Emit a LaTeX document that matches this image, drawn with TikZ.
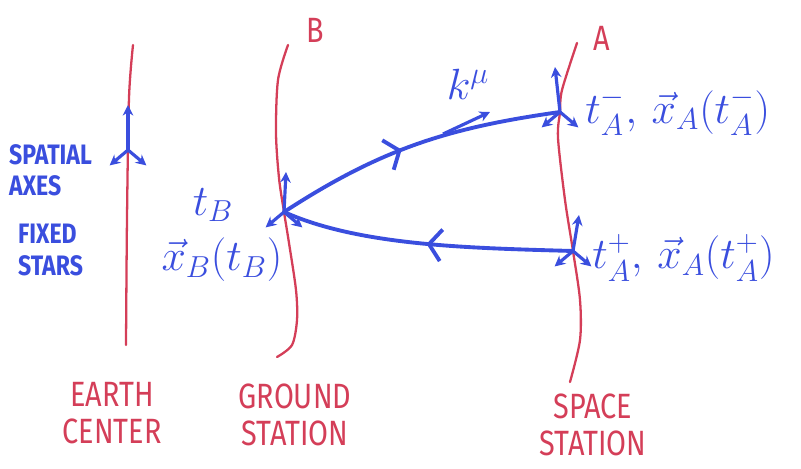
\documentclass[tikz,border=0pt]{standalone}
\usepackage{amsmath,amssymb}
\usepackage{xcolor}
\usepackage{fontspec}
\newfontfamily\handfont[FakeStretch=0.82]{Fira Sans}
\usepackage{tikz}
\usetikzlibrary{positioning,arrows.meta,decorations.markings}
\definecolor{penred}{RGB}{212,62,88}
\definecolor{penblue}{RGB}{58,78,222}

\begin{document}
\begin{tikzpicture}[x=0.02cm,y=0.02cm,
        wline/.style={penred,line width=1.3pt,line cap=round},
        ray/.style={penblue,line width=2.2pt,line cap=round,postaction={decorate},
                    decoration={markings,mark=at position #1 with
                    {\arrow{Straight Barb[length=7pt,width=18pt]}}}},
        axis/.style={penblue,line width=1.8pt,-{Stealth[length=6pt,width=6pt]}},
        redlbl/.style={penred,font=\handfont\fontsize{20}{21}\selectfont,align=center},
        bluelbl/.style={penblue,font=\handfont\bfseries\fontsize{16}{18}\selectfont,align=left},
        mathlbl/.style={penblue,font=\fontsize{24}{26}\selectfont,inner sep=0pt}]
        \useasboundingbox (0,0) rectangle (801,468);
        \coordinate (E) at (128,318);
        \coordinate (B) at (284,256);
        \coordinate (Am) at (560,356);
        \coordinate (Ap) at (573,217);
        \draw[wline] plot[smooth] coordinates {(133,423) (129,370) (127,250) (126,123)};
        \draw[wline] plot[smooth] coordinates {(288,423) (278,388) (276,335) (279,290)
          (284,256) (289,225) (296,178) (297,148) (292,123) (277,111)};
        \draw[wline] plot[smooth] coordinates {(577,425) (562,378) (560,356) (558,330)
          (565,268) (573,217) (580,168) (580,128) (570,86)};
        \foreach \ev/\dx/\up in {E/0/45,B/2/40,Am/-5/45,Ap/6/36}{
          \draw[axis] (\ev) -- ++(\dx,\up);
          \draw[axis] (\ev) -- ++(-140:24);
          \draw[axis] (\ev) -- ++(-40:24);
        }
        \draw[ray=0.45] (B) to[out=33,in=188] (Am);
        \draw[ray=0.5] (Ap) .. controls (470,220) and (360,222) .. (B);
        \coordinate (k0) at (443,334);
        \coordinate (k1) at (490,356);
        \draw[axis] (k0) -- (k1);
        \node[mathlbl] (klbl) at (468,384) {$k^\mu$};
        \node[mathlbl] (tB) at (213,263) {$t_B$};
        \node[mathlbl] (xB) at (222,208) {$\vec{x}_B(t_B)$};
        \node[mathlbl,anchor=west] (lAm) at (585,356) {$t_A^-,\,\vec{x}_A(t_A^-)$};
        \node[mathlbl,anchor=west] (lAp) at (592,210) {$t_A^+,\,\vec{x}_A(t_A^+)$};
        \node[redlbl] (lblB) at (315,438) {B};
        \node[redlbl] (lblA) at (602,430) {A};
        \node[redlbl] (earth) at (112,55) {EARTH\\CENTER};
        \node[redlbl] (ground) at (295,53) {GROUND\\STATION};
        \node[redlbl] (space) at (593,43) {SPACE\\STATION};
        \node[bluelbl,anchor=north west] (axes) at (3,330) {SPATIAL\\AXES};
        \node[bluelbl,anchor=north west] (stars) at (12,250) {FIXED\\STARS};
      \end{tikzpicture}
\end{document}
